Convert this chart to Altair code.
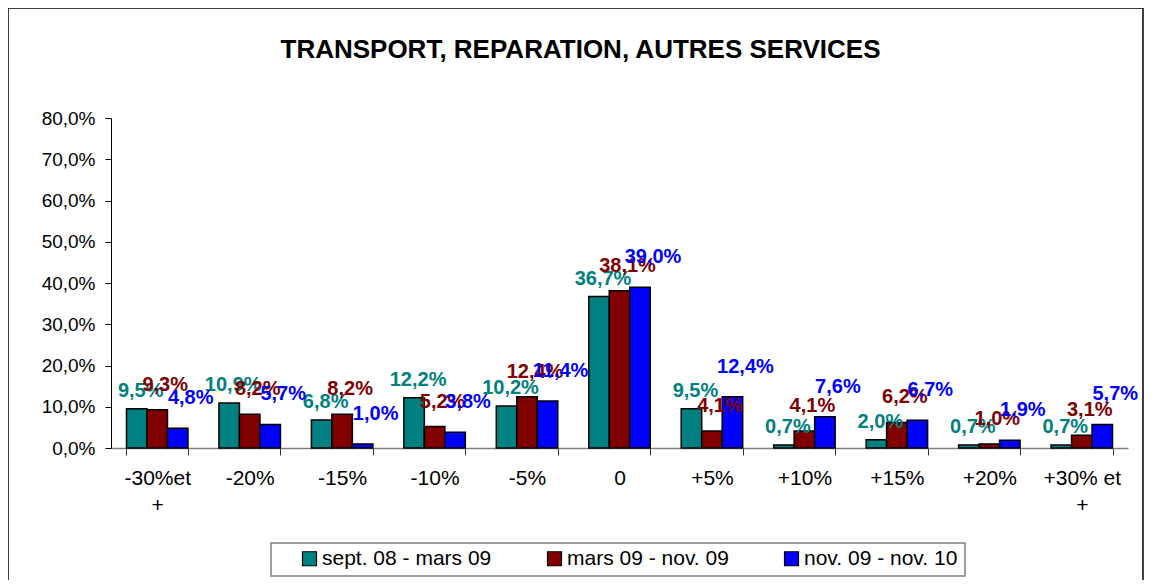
import altair as alt
import pandas as pd

categories = ["-30%et +", "-20%", "-15%", "-10%", "-5%", "0", "+5%", "+10%", "+15%", "+20%", "+30% et +"]
series_names = ["sept. 08 - mars 09", "mars 09 - nov. 09", "nov. 09 - nov. 10"]
s1 = [9.5, 10.9, 6.8, 12.2, 10.2, 36.7, 9.5, 0.7, 2.0, 0.7, 0.7]
s2 = [9.3, 8.2, 8.2, 5.2, 12.4, 38.1, 4.1, 4.1, 6.2, 1.0, 3.1]
s3 = [4.8, 5.7, 1.0, 3.8, 11.4, 39.0, 12.4, 7.6, 6.7, 1.9, 5.7]
colors = ["#008080", "#800000", "#0000FF"]
y_ticks = [0, 10, 20, 30, 40, 50, 60, 70, 80]

rows = []
for name, vals in zip(series_names, [s1, s2, s3]):
    for c, v in zip(categories, vals):
        rows.append({"cat": c, "series": name, "value": v})
df = pd.DataFrame(rows)

FONT = "Liberation Sans"

base = alt.Chart(df).transform_calculate(
    label="replace(format(datum.value, '.1f'), '.', ',') + '%'"
).encode(
    x=alt.X(
        "cat:N",
        sort=categories,
        scale=alt.Scale(paddingInner=0.335, paddingOuter=0.1675),
        axis=alt.Axis(
            title=None,
            labelAngle=0,
            labelFontSize=21,
            labelColor="black",
            labelPadding=12,
            labelLineHeight=27,
            tickBand="extent",
            tickSize=7,
            tickColor="#333333",
            domainColor="#808080",
            domainWidth=1.5,
            labelExpr="datum.label == '-30%et +' ? ['-30%et', '+'] : datum.label == '+30% et +' ? ['+30% et', '+'] : datum.label",
        ),
    ),
    xOffset=alt.XOffset("series:N", sort=series_names, scale=alt.Scale(paddingInner=0, paddingOuter=0)),
    y=alt.Y(
        "value:Q",
        scale=alt.Scale(domain=[0, 80], nice=False),
        axis=alt.Axis(
            title=None,
            values=y_ticks,
            grid=False,
            labelFontSize=19,
            labelColor="black",
            labelPadding=10,
            tickSize=6,
            tickColor="black",
            domainColor="black",
            labelExpr="replace(format(datum.value, '.1f'), '.', ',') + '%'",
        ),
    ),
)

bars = base.mark_bar(stroke="black", strokeWidth=1.5).encode(
    color=alt.Color(
        "series:N",
        sort=series_names,
        scale=alt.Scale(domain=series_names, range=colors),
        legend=alt.Legend(
            title=None,
            orient="none",
            legendX=188,
            legendY=430,
            direction="horizontal",
            columns=3,
            columnPadding=52,
            labelFontSize=21,
            labelColor="black",
            labelLimit=300,
            labelOffset=2,
            symbolType="square",
            symbolSize=196,
            symbolStrokeColor="black",
            symbolStrokeWidth=1.2,
            symbolOffset=0,
            padding=0,
        ),
    )
)

offsets = [(4, -18), (8, -25), (13, -30)]
label_layers = []
for name, col, (ddx, ddy) in zip(series_names, colors, offsets):
    label_layers.append(
        base.transform_filter(alt.datum.series == name)
        .mark_text(fontSize=20, fontWeight="bold", color=col, dx=ddx, dy=ddy, baseline="middle")
        .encode(text="label:N")
    )

decor = alt.Data(values=[{"k": 1}])

frame = alt.Chart(decor).mark_rect(
    filled=False, stroke="black", strokeWidth=1.5
).encode(
    x=alt.value(-103),
    x2=alt.value(1032),
    y=alt.value(-110),
    y2=alt.value(500),
)

legend_box = alt.Chart(decor).mark_rect(
    fill="white", stroke="#808080", strokeWidth=1.5
).encode(
    x=alt.value(160),
    x2=alt.value(854),
    y=alt.value(425),
    y2=alt.value(458),
)

chart = alt.layer(frame, legend_box, bars, *label_layers).properties(
    width=1017,
    height=330,
    padding={"left": 103, "top": 110, "right": 17, "bottom": 132},
    autosize=alt.AutoSizeParams(type="none"),
    title=alt.TitleParams(
        "TRANSPORT, REPARATION, AUTRES SERVICES",
        fontSize=26,
        fontWeight="bold",
        color="black",
        anchor="middle",
        frame="group",
        dx=-39,
        offset=-56,
    ),
).configure(font=FONT).configure_view(stroke=None)

chart.save("out.html", embed_options={"renderer": "svg", "actions": False})
